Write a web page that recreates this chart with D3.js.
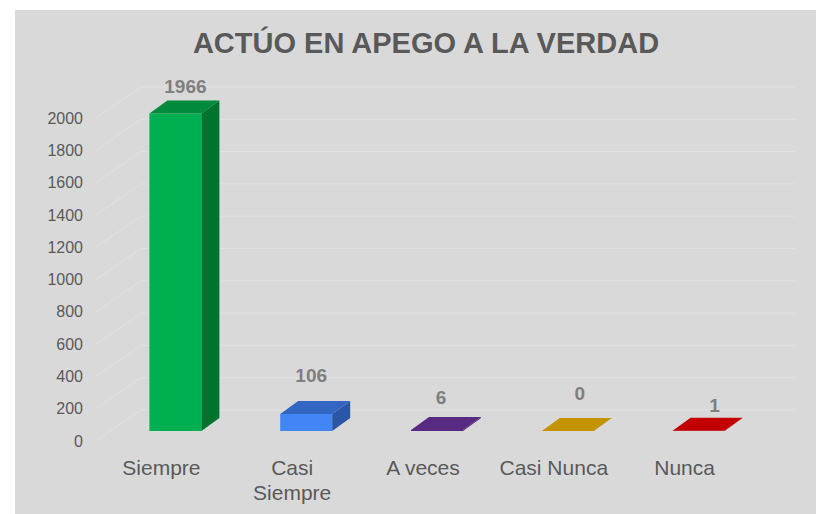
<!DOCTYPE html>
<html>
<head>
<meta charset="utf-8">
<script src="https://cdn.jsdelivr.net/npm/d3@7"></script>
<style>
  body { margin: 0; background: #fff; }
  text { font-family: "Liberation Sans", Arial, sans-serif; }
</style>
</head>
<body>
<div id="chart"></div>
<script>
// data
const categories = ['Siempre', 'Casi Siempre', 'A veces', 'Casi Nunca', 'Nunca'];
const counts = [1966, 106, 6, 0, 1];
const yTicks = [0, 200, 400, 600, 800, 1000, 1200, 1400, 1600, 1800, 2000];

// colours per bar: front, side, top
const barColors = [
    {front: '#00b050', side: '#00732f', top: '#008a3c'},
    {front: '#4285f4', side: '#2b56a6', top: '#3266c2'},
    {front: '#5a2884', side: '#4a2070', top: '#582a82'},
    {front: '#c69200', side: '#a67a00', top: '#c49300'},
    {front: '#c00000', side: '#a00000', top: '#c30000'}
];
// excel puts the value labels a bit unevenly
const labelNudge = [[1, -14], [-4, -26], [-5, -20], [3, -25], [7, -12]];

const W = 816, H = 514;
const wallDx = 45, wallDy = -31;   // depth of the side wall
const barOx = 14, barOy = -10;     // where the bar sits inside the depth
const barDx = 18, barDy = -13;     // bar depth
const barW = 52;

const svg = d3.select('#chart').append('svg')
    .attr('width', W)
    .attr('height', H);

svg.append('rect')
    .attr('x', 15).attr('y', 10)
    .attr('width', W - 15).attr('height', H - 10)
    .attr('fill', '#d9d9d9');

// scales
const xScale = d3.scaleBand()
    .domain(categories)
    .range([96, 750]);

const yScale = d3.scaleLinear()
    .domain([0, 2000])
    .range([441, 118]);

// gridlines: side wall diagonal + back wall
const grid = svg.append('g').attr('stroke', '#e1e1e1').attr('stroke-width', 1).attr('fill', 'none');
grid.selectAll('path')
    .data(yTicks)
    .enter()
    .append('path')
    .attr('d', d => {
        const x0 = xScale.range()[0], x1 = xScale.range()[1];
        const y = yScale(d);
        return 'M' + x0 + ',' + y + 'L' + (x0 + wallDx) + ',' + (y + wallDy) +
            'L' + (x1 + wallDx) + ',' + (y + wallDy);
    });

// y axis labels
svg.append('g')
    .selectAll('text')
    .data(yTicks)
    .enter()
    .append('text')
    .attr('x', 83)
    .attr('y', d => yScale(d))
    .attr('dy', '0.35em')
    .attr('text-anchor', 'end')
    .attr('font-size', 16)
    .attr('fill', '#595959')
    .text(d => d);

// bars
const rows = categories.map((c, i) => ({cat: c, value: counts[i], col: barColors[i], nudge: labelNudge[i]}));

function pts(arr) { return arr.map(p => p.join(',')).join(' '); }

const bars = svg.append('g')
    .selectAll('g')
    .data(rows)
    .enter()
    .append('g');

function geom(d) {
    const x0 = xScale(d.cat) + (xScale.bandwidth() - barW) / 2 + barOx;
    const x1 = x0 + barW;
    const yb = yScale(0) + barOy;
    const yt = yScale(d.value) + barOy;
    return {x0, x1, yb, yt};
}

bars.append('polygon')
    .attr('points', d => {
        const g = geom(d);
        return pts([[g.x0, g.yt], [g.x1, g.yt], [g.x1, g.yb], [g.x0, g.yb]]);
    })
    .attr('fill', d => d.col.front);

bars.append('polygon')
    .attr('points', d => {
        const g = geom(d);
        return pts([[g.x1, g.yt], [g.x1 + barDx, g.yt + barDy], [g.x1 + barDx, g.yb + barDy], [g.x1, g.yb]]);
    })
    .attr('fill', d => d.col.side);

bars.append('polygon')
    .attr('points', d => {
        const g = geom(d);
        return pts([[g.x0, g.yt], [g.x0 + barDx, g.yt + barDy], [g.x1 + barDx, g.yt + barDy], [g.x1, g.yt]]);
    })
    .attr('fill', d => d.col.top);

// value labels
bars.append('text')
    .attr('x', d => (geom(d).x0 + geom(d).x1) / 2 + barDx / 2 + d.nudge[0])
    .attr('y', d => geom(d).yt + barDy + d.nudge[1])
    .attr('dy', '0.35em')
    .attr('text-anchor', 'middle')
    .attr('font-size', 19)
    .attr('font-weight', 'bold')
    .attr('fill', '#7f7f7f')
    .text(d => d.value);

// category labels (wrap two-word "Casi Siempre" like excel does)
const catG = svg.append('g')
    .selectAll('text')
    .data(categories)
    .enter()
    .append('text')
    .attr('x', d => xScale(d) + xScale.bandwidth() / 2)
    .attr('y', 475)
    .attr('text-anchor', 'middle')
    .attr('font-size', 21)
    .attr('fill', '#595959');

catG.each(function(d) {
    const lines = d === 'Casi Siempre' ? ['Casi', 'Siempre'] : [d];
    const el = d3.select(this);
    lines.forEach((l, i) => {
        el.append('tspan')
            .attr('x', xScale(d) + xScale.bandwidth() / 2)
            .attr('dy', i === 0 ? 0 : 25)
            .text(l);
    });
});

// title
svg.append('text')
    .attr('x', 426)
    .attr('y', 53)
    .attr('text-anchor', 'middle')
    .attr('font-size', 29)
    .attr('font-weight', 'bold')
    .attr('fill', '#595959')
    .text('ACTÚO EN APEGO A LA VERDAD');
</script>
</body>
</html>
